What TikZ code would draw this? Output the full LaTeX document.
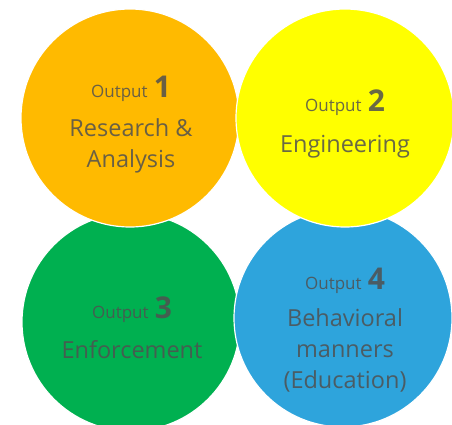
\documentclass[tikz,border=0pt]{standalone}
\usepackage{fontspec}
\setmainfont{Open Sans}
\usetikzlibrary{positioning}
\definecolor{myorange}{RGB}{255, 186, 0}
\definecolor{myyellow}{RGB}{255, 255, 0}
\definecolor{mygreen}{RGB}{0, 176, 80}
\definecolor{myblue}{RGB}{46, 164, 220}
\definecolor{mygrey}{RGB}{80, 80, 80}
\newcommand{\outnum}[1]{{\fontsize{17}{18}\selectfont Output}~{\fontsize{30}{30}\selectfont\bfseries #1}}

\begin{document}
\begin{tikzpicture}[
            x=1pt, y=-1pt,
            disc/.style={
                circle,
                draw=white,
                line width=1.2pt,
                fill=#1,
                minimum size=218pt,
                inner sep=0pt
            },
            caption/.style={
                align=center,
                text=mygrey,
                text opacity=0.85,
                font=\fontsize{23.5}{31}\selectfont
            }
        ]

            \useasboundingbox (0,0) rectangle (452,424);

            % Circles
            \node[disc=mygreen] (enforce) at (131,322) {};
            \node[disc=myblue] (behave) at (343,318) {};
            \node[disc=myorange] (research) at (130,118) {};
            \node[disc=myyellow] (engineer) at (345,118) {};

            % Texts
            \node[caption] (research-text) at (131,125) {\outnum{1}\\[8pt]Research \&\\Analysis};
            \node[caption] (engineer-text) at (345,124) {\outnum{2}\\[10pt]Engineering};
            \node[caption] (enforce-text) at (132,328) {\outnum{3}\\[9pt]Enforcement};
            \node[caption] (behave-text) at (345,330) {\outnum{4}\\[6pt]Behavioral\\manners\\(Education)};
        \end{tikzpicture}
\end{document}
